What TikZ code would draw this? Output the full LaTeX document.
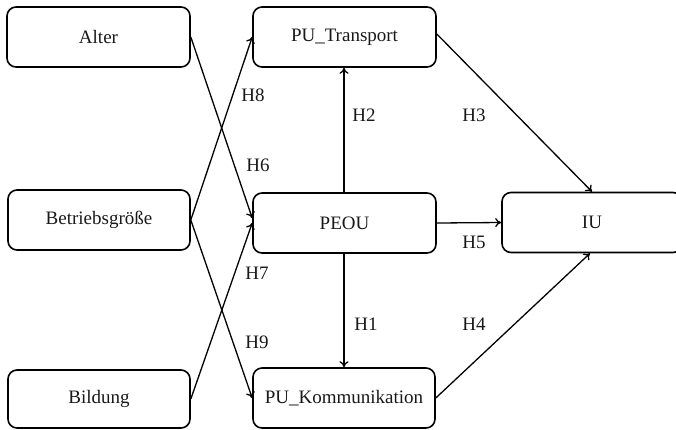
\documentclass[tikz,border=0pt]{standalone}
\usepackage{fontspec}
\setmainfont{Liberation Serif}
\usetikzlibrary{arrows.meta}
\begin{document}
\begin{tikzpicture}[x=1pt,y=-1pt,
  box/.style={draw, line width=1.6pt, rounded corners=9pt, minimum height=60pt, inner sep=0pt, font=\fontsize{19}{22}\selectfont, text=black!90},
  lbl/.style={font=\fontsize{19}{22}\selectfont, inner sep=0pt, text=black!90},
  arr/.style={draw, line width=1.3pt, -{To[length=6pt,width=9pt]}}]
\useasboundingbox (0,0) rectangle (676,429);
\node[box, minimum width=183pt] (alter) at (98.5,37) {Alter};
\node[box, minimum width=182pt] (betr) at (99,220) {Betriebsgröße};
\node[box, minimum width=182pt, minimum height=58pt] (bild) at (99,399) {Bildung};
\node[box, minimum width=183pt] (put) at (344.5,37) {PU\_Transport};
\node[box, minimum width=183pt] (peou) at (344.5,223) {PEOU};
\node[box, minimum width=182pt] (puk) at (344,398) {PU\_Kommunikation};
\node[box, minimum width=180pt] (iu) at (592,222.5) {IU};
\draw[arr] (alter.east) -- ([yshift=5pt]peou.west);
\draw[arr] (bild.east) -- (peou.west);
\draw[arr] (betr.east) -- (put.west);
\draw[arr] (betr.east) -- (puk.west);
\draw[arr] (peou.north -| 344,0) -- (put.south -| 344,0);
\draw[arr] (peou.south -| 344,0) -- (puk.north -| 344,0);
\draw[arr] (peou.east) -- (iu.west);
\draw[arr] ([yshift=3pt]put.east) -- (iu.north);
\draw[arr] (puk.east) -- ([xshift=-2pt]iu.south);
\node[lbl] (h8) at (253,95) {H8};
\node[lbl] (h6) at (258,165) {H6};
\node[lbl] (h7) at (257,273) {H7};
\node[lbl] (h9) at (257,342) {H9};
\node[lbl] (h2) at (364,115) {H2};
\node[lbl] (h3) at (474,115) {H3};
\node[lbl] (h5) at (474,242) {H5};
\node[lbl] (h1) at (366,324) {H1};
\node[lbl] (h4) at (474,324) {H4};
\end{tikzpicture}
\end{document}
